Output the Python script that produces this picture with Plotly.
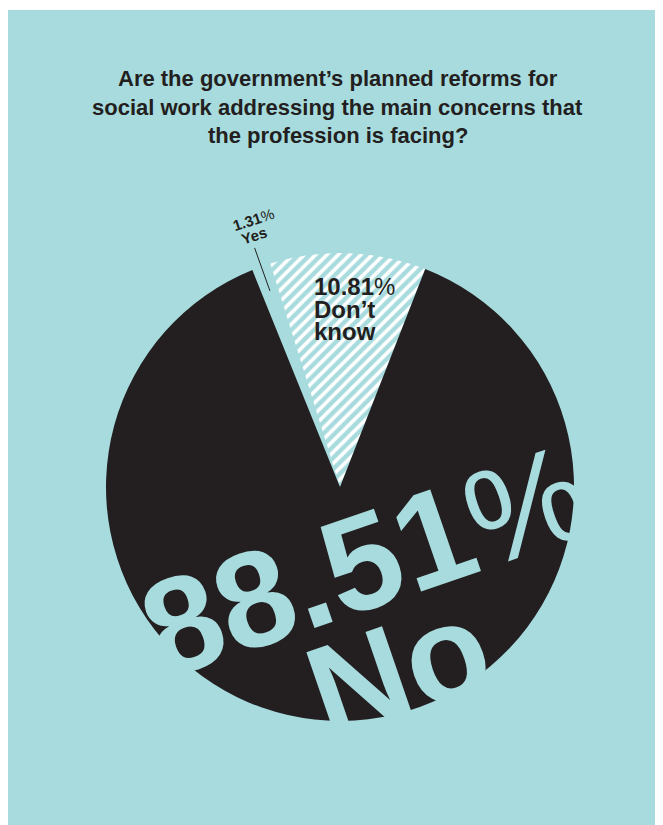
import math
import plotly.graph_objects as go

# ---- data ----
categories = ["Yes", "Don’t know", "No"]
shares = [1.31, 10.81, 88.51]
title_lines = [
    "Are the government’s planned reforms for",
    "social work addressing the main concerns that",
    "the profession is facing?",
]

# ---- style / layout ----
W, H = 655, 817
TEAL = "#a7dbde"
DARK = "#231f20"
FONT = "Liberation Sans, Arial, Helvetica, sans-serif"
CX, CY, R = 332, 479, 234          # pie centre / radius in pixels
ROTATION = -22

def px(x):
    return x / W

def py(y):
    return 1 - y / H

fig = go.Figure()
fig.add_trace(go.Pie(
    labels=categories,
    values=shares,
    sort=False,
    direction="clockwise",
    rotation=ROTATION,
    textinfo="none",
    hoverinfo="label+value",
    showlegend=False,
    domain=dict(x=[px(CX - R), px(CX + R)], y=[py(CY + R), py(CY - R)]),
    marker=dict(
        colors=[TEAL, TEAL, DARK],
        line=dict(width=0),
        pattern=dict(shape=["", "/", ""], fgcolor="white", size=8, solidity=0.45),
    ),
))

ann = []
# title
for i, line in enumerate(title_lines):
    ann.append(dict(text="<b>%s</b>" % line, x=px(330), y=py(70 + 29 * i),
                    xref="paper", yref="paper", showarrow=False,
                    xanchor="center", yanchor="middle",
                    font=dict(family=FONT, size=22, color=DARK)))

def pct(v):
    return "%.2f" % v

# Don't know label (tight leading, as in the original)
dk_lines = ["<b>%s</b>%%" % pct(shares[1]), "<b>Don’t</b>", "<b>know</b>"]
for i, t in enumerate(dk_lines):
    ann.append(dict(text=t, x=px(305), y=py(278 + 22.5 * i), xref="paper", yref="paper",
                    showarrow=False, xanchor="left", yanchor="middle", height=22,
                    borderpad=0,
                    font=dict(family=FONT, size=24, color=DARK)))

# Yes label (rotated)
ann.append(dict(text="<b>%s</b>%%" % pct(shares[0]), x=px(245.5), y=py(211), xref="paper", yref="paper",
                showarrow=False, textangle=-18, xanchor="center", yanchor="middle",
                font=dict(family=FONT, size=15, color=DARK)))
ann.append(dict(text="<b>Yes</b>", x=px(246), y=py(227), xref="paper", yref="paper",
                showarrow=False, textangle=-18, xanchor="center", yanchor="middle",
                font=dict(family=FONT, size=15, color=DARK)))

# No label (big, rotated)
ann.append(dict(text="<b>%s</b>%%" % pct(shares[2]), x=px(357), y=py(553), xref="paper", yref="paper",
                showarrow=False, textangle=-19, xanchor="center", yanchor="middle",
                font=dict(family=FONT, size=136, color=TEAL)))
ann.append(dict(text="<b>No</b>", x=px(390), y=py(662), xref="paper", yref="paper",
                showarrow=False, textangle=-19, xanchor="center", yanchor="middle",
                font=dict(family=FONT, size=136, color=TEAL)))

# leader line for the Yes slice, along its mid angle
mid = math.radians(ROTATION + 360 * shares[0] / sum(shares) / 2)
r1, r2 = 0.89 * R, 1.085 * R
shapes = [
    dict(type="line", xref="paper", yref="paper",
         x0=px(CX + r1 * math.sin(mid)), y0=py(CY - r1 * math.cos(mid)),
         x1=px(CX + r2 * math.sin(mid)), y1=py(CY - r2 * math.cos(mid)),
         line=dict(color=DARK, width=1)),
    # thin white strip along the top edge
    dict(type="rect", xref="paper", yref="paper", x0=0, x1=1, y0=py(2), y1=1,
         fillcolor="white", line=dict(width=0)),
]

fig.update_layout(
    width=W, height=H,
    margin=dict(l=0, r=0, t=0, b=0),
    paper_bgcolor=TEAL,
    plot_bgcolor=TEAL,
    annotations=ann,
    shapes=shapes,
)

fig.write_html("out.html")
